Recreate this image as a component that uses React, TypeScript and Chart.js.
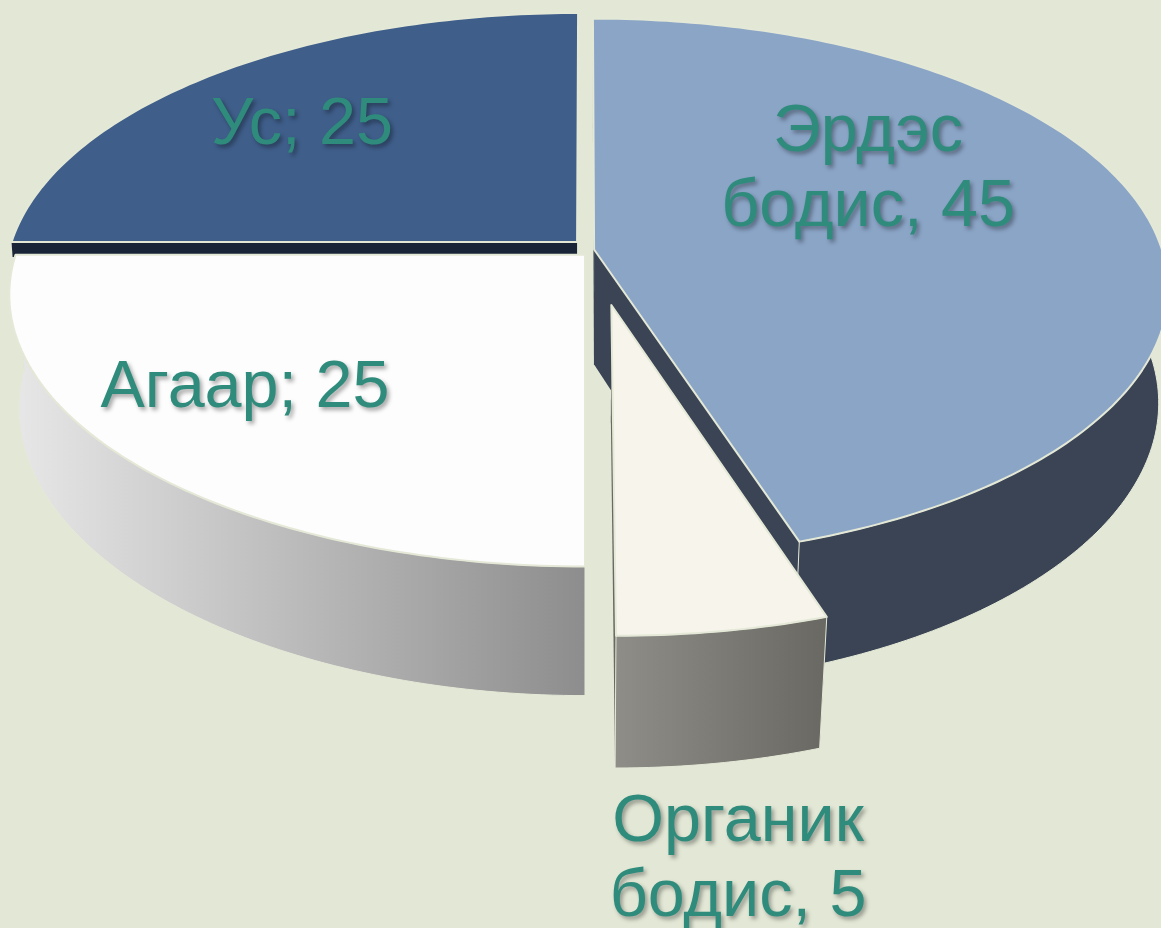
import React, { useEffect, useRef } from "react";
import { Chart, registerables } from "chart.js";

Chart.register(...registerables);

const categories = ["Эрдэс бодис", "Органик бодис", "Агаар", "Ус"];
const values = [45, 5, 25, 25];
const labelLines = [["Эрдэс", "бодис, 45"], ["Органик", "бодис, 5"], ["Агаар; 25"], ["Ус; 25"]];
const labelCentres = [[868, 133], [738, 823], [245, 389], [302, 126]];
const topColours = ["#8ba5c7", "#f7f4ec", "#fdfdfd", "#3f5e8a"];
const sideColours = [["#3a4454", "#3a4454"], ["#8e8d88", "#696863"], ["#e8e8e8", "#8d8d8d"], ["#1a2438", "#1a2438"]];
const explode = [[0.016, -0.002], [0.045, 0.2017], [0, 0.018], [-0.014, -0.03]];
const drawOrder = [3, 0, 2, 1];

const CX = 585, CY = 250, A = 264.7, B = 568, K = 0.146;
const EDGE = "#e4e8d6";

function project(u: number, v: number) {
  const w = 1 - K * v;
  return { x: CX + (B * u) / w, y: CY + (A * v) / w };
}
function drop(p: { x: number; y: number }) {
  const s = 0.985 - 0.00004 * (p.y - 253);
  return { x: CX + (p.x - CX) * s, y: p.y + 115 + 0.045 * (p.y - 253) };
}
function poly(ctx: CanvasRenderingContext2D, pts: { x: number; y: number }[]) {
  ctx.beginPath();
  pts.forEach((p, i) => (i ? ctx.lineTo(p.x, p.y) : ctx.moveTo(p.x, p.y)));
  ctx.closePath();
}

const pie3d = {
  id: "pie3d",
  beforeDatasetsDraw(chart: any) {
    const ctx: CanvasRenderingContext2D = chart.ctx;
    const arcs = chart.getDatasetMeta(0).data;
    ctx.save();
    ctx.lineJoin = "round";
    for (const i of drawOrder) {
      const arc = arcs[i];
      const [ex, ey] = explode[i];
      const n = Math.max(8, Math.round((arc.endAngle - arc.startAngle) * 60));
      const rim = [];
      for (let s = 0; s <= n; s++) {
        const a = arc.startAngle + ((arc.endAngle - arc.startAngle) * s) / n;
        rim.push(project(Math.cos(a) + ex, Math.sin(a) + ey));
      }
      const apex = project(ex, ey);
      const [c0, c1] = sideColours[i];
      const minX = Math.min(...rim.map((p) => p.x));
      const maxX = Math.max(...rim.map((p) => p.x));
      const g = ctx.createLinearGradient(minX, 0, maxX, 0);
      g.addColorStop(0, c0);
      g.addColorStop(1, c1);
      if (i === 3) {
        // back slice: only a strip of its front wall shows above the next slice
        ctx.fillStyle = c0;
        poly(ctx, [apex, rim[0], { x: rim[0].x + 1, y: rim[0].y + 15 }, { x: apex.x, y: apex.y + 15 }]);
        ctx.fill();
      } else {
        // radial walls
        ctx.fillStyle = c0 === c1 ? c0 : c1;
        poly(ctx, [apex, rim[0], drop(rim[0]), drop(apex)]);
        ctx.fill();
        poly(ctx, [apex, rim[n], drop(rim[n]), drop(apex)]);
        ctx.fill();
        // outer wall
        ctx.fillStyle = g;
        poly(ctx, [...rim, ...rim.map(drop).reverse()]);
        ctx.fill();
        ctx.strokeStyle = EDGE;
        ctx.lineWidth = 1;
        ctx.stroke();
      }
      // top face
      ctx.fillStyle = topColours[i];
      poly(ctx, [apex, ...rim]);
      ctx.fill();
      ctx.strokeStyle = EDGE;
      ctx.lineWidth = 2;
      ctx.stroke();
    }
    ctx.restore();
    return false;
  },
  afterDraw(chart: any) {
    const ctx: CanvasRenderingContext2D = chart.ctx;
    ctx.save();
    ctx.font = '66.5px "Liberation Sans"';
    ctx.textAlign = "center";
    ctx.textBaseline = "middle";
    ctx.fillStyle = "#2f8c7c";
    ctx.shadowColor = "rgba(0,0,0,0.35)";
    ctx.shadowOffsetX = 2.5;
    ctx.shadowOffsetY = 2.5;
    ctx.shadowBlur = 4;
    labelLines.forEach((lines, i) => {
      lines.forEach((t, j) => {
        ctx.fillText(t, labelCentres[i][0], labelCentres[i][1] + j * 75);
      });
    });
    ctx.restore();
  },
};

export default function App() {
  const ref = useRef<HTMLCanvasElement>(null);
  useEffect(() => {
    const chart = new Chart(ref.current!, {
      type: "pie",
      data: { labels: categories, datasets: [{ data: values, backgroundColor: topColours }] },
      options: {
        responsive: false,
        animation: false,
        plugins: { legend: { display: false }, tooltip: { enabled: false } },
      },
      plugins: [pie3d],
    } as any);
    return () => chart.destroy();
  }, []);
  return (
    <div style={{ position: "fixed", left: 0, top: 0, width: 1161, height: 928, background: "#e3e8d6", overflow: "hidden" }}>
      <canvas ref={ref} width={1161} height={928} />
    </div>
  );
}
